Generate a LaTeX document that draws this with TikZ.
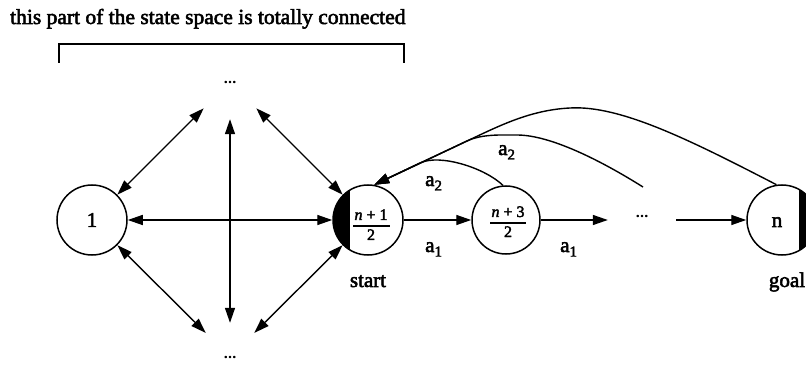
\documentclass[tikz,border=0pt]{standalone}
\usepackage{fontspec}
\setmainfont{Liberation Serif}
\newfontfamily\thk[FakeBold=2.5]{Liberation Serif}
\usetikzlibrary{arrows.meta,calc}
\newcommand{\subi}[1]{a\raisebox{-4.5pt}{\fontsize{15}{15}\selectfont #1}}
\tikzset{
  >={Triangle[length=15pt,width=10pt]},
  st/.style={circle,draw,line width=1.5pt,minimum size=70pt,inner sep=0pt,font=\thk\fontsize{21}{23}\selectfont},
  arr/.style={->,line width=1.4pt},
  darr/.style={<->,line width=1.4pt},
  lbl/.style={font=\thk\fontsize{21}{23}\selectfont,inner sep=0pt},
  dotsn/.style={circle,inner sep=0pt,font=\thk\fontsize{17}{19}\selectfont},
  fr/.style={font=\thk\fontsize{16}{18}\selectfont,inner sep=0pt},
  bar/.style={line width=1.6pt},
}
\begin{document}
\begin{tikzpicture}[x=1pt,y=-1pt]
\useasboundingbox (0,0) rectangle (806,366);
% heading and bracket
\node[font=\thk\fontsize{21.5}{23}\selectfont,inner sep=0pt,anchor=base west] (head) at (10,24) {this part of the state space is totally connected};
\draw[line width=1.2pt] (59,63) -- (59,44) -- (404,44) -- (404,63);
% nodes
\node[st] (n1) at (92,220) {1};
\node[st] (start) at (368,220) {};
\node[st,minimum size=68pt] (n3) at (506,220) {};
\node[st] (goal) at (782,220) {};
% shaded segments
\begin{scope}
  \clip (start.center) circle[radius=35];
  \fill ($(start.center)+(-40,-40)$) rectangle ($(start.center)+(-18,40)$);
\end{scope}
\begin{scope}
  \clip (0,0) rectangle (806,366);
  \clip (goal.center) circle[radius=35];
  \fill ($(goal.center)+(17,-40)$) rectangle ($(goal.center)+(40,40)$);
\end{scope}
\node[st,draw=none,fill=none] at (start) {};
% fractions
\node[fr,anchor=base] (f1n) at (371,220) {\textit{n} + 1};
\draw[bar] (353,226) -- (390,226);
\node[fr,anchor=base] (f1d) at (371,240) {2};
\node[fr,anchor=base] (f3n) at (508,217) {\textit{n} + 3};
\draw[bar] (490,223) -- (526,223);
\node[fr,anchor=base] (f3d) at (508,237) {2};
\node[lbl,anchor=base] (nlab) at (777,227) {n};
% dots
\node[dotsn,minimum size=74pt] (topd) at (230,82) {...};
\node[dotsn,minimum size=68pt] (botd) at (230,357) {...};
\node[dotsn,rectangle,minimum width=68pt,minimum height=20pt] (mid) at (642,216) {...};
% fully connected part
\draw[darr] (n1) -- (topd);
\draw[darr] (topd) -- (start);
\draw[darr] (n1) -- (start);
\draw[darr] (topd) -- (botd);
\draw[darr] (n1) -- (botd);
\draw[darr] (botd) -- (start);
% chain
\draw[arr] (start) -- (n3);
\draw[arr] (n3.east) -- (mid.west |- n3.east);
\draw[arr] (mid.east |- goal.west) -- (goal);
% back arcs
\coordinate (c2s) at (643,187);
\draw[arr] (n3.95) .. controls (485,168) and (440,153.5) .. (420,163) -- (start.80);
\draw[arr] (c2s) .. controls (600,160) and (550,135) .. (517,135) .. controls (500,135) and (482,134) .. (467,141) -- (start.80);
\draw[arr] (goal.99) .. controls (690,140) and (620,105) .. (570,108) .. controls (530,110) and (499,126) .. (467,141) -- (start.80);
% labels
\node[lbl,anchor=base west] (a1a) at (425,252) {\subi{1}};
\node[lbl,anchor=base west] (a1b) at (560,252) {\subi{1}};
\node[lbl,anchor=base west] (a2a) at (425,186) {\subi{2}};
\node[lbl,anchor=base west] (a2b) at (498,155) {\subi{2}};
\node[lbl,anchor=base] (slab) at (368,287) {start};
\node[lbl,anchor=base] (glab) at (787,287) {goal};
\end{tikzpicture}
\end{document}
